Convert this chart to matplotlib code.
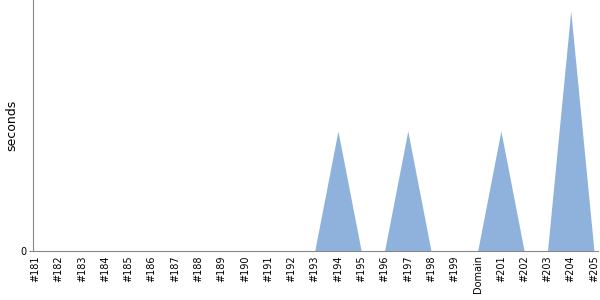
import matplotlib
matplotlib.use('Agg')
import matplotlib.pyplot as plt
import numpy as np

labels = ['#181', '#182', '#183', '#184', '#185', '#186', '#187', '#188', '#189',
          '#190', '#191', '#192', '#193', '#194', '#195', '#196', '#197', '#198',
          '#199', 'Domain', '#201', '#202', '#203', '#204', '#205']
seconds = [0, 0, 0, 0, 0, 0, 0, 0, 0, 0, 0, 0, 0, 1, 0, 0, 1, 0, 0, 0, 1, 0, 0, 2, 0]

x = np.arange(len(labels))

fig = plt.figure(figsize=(6, 3), dpi=100)
ax = fig.add_axes([0.055, 0.163, 0.942, 0.837])

ax.fill_between(x, seconds, 0, color='#8fb2dc', linewidth=0)

ax.set_xlim(-0.1, len(labels) - 1 + 0.18)
ax.set_ylim(0, 2.09)
ax.set_xticks(x)
ax.set_xticklabels(labels, rotation=90, fontsize=7)
ax.set_yticks([0])
ax.set_yticklabels(['0'], fontsize=7)
ax.tick_params(axis='x', length=0, pad=3)
ax.tick_params(axis='y', length=3, color='#888888', pad=2)
ax.set_ylabel('seconds', fontsize=9, labelpad=1)

for s in ['top', 'right']:
    ax.spines[s].set_visible(False)
for s in ['left', 'bottom']:
    ax.spines[s].set_color('#888888')

fig.savefig('out.png', dpi=100)
